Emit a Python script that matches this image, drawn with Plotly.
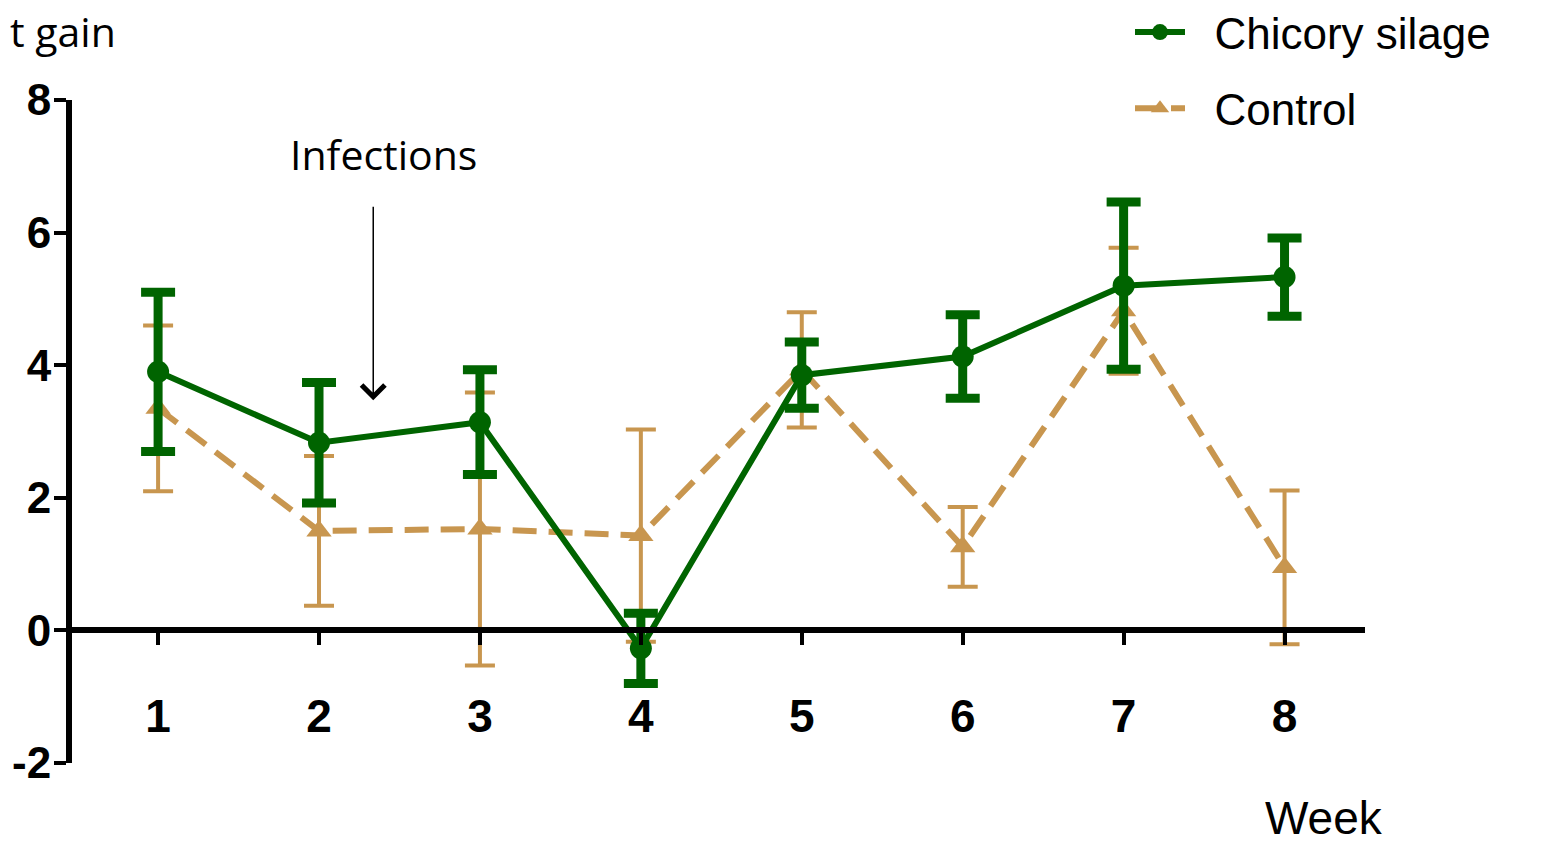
import plotly.graph_objects as go

# Weekly weight gain, mean with error (SEM)
weeks = [1, 2, 3, 4, 5, 6, 7, 8]
chicory_mean = [3.90, 2.83, 3.14, -0.27, 3.85, 4.13, 5.20, 5.33]
chicory_err = [1.20, 0.91, 0.79, 0.53, 0.50, 0.63, 1.26, 0.59]
control_mean = [3.35, 1.50, 1.53, 1.43, 3.93, 1.26, 4.82, 0.95]
control_err = [1.25, 1.13, 2.06, 1.60, 0.87, 0.60, 0.95, 1.16]
ytick_vals = [-2, 0, 2, 4, 6, 8]
ytick_text = ["-2", "0", "2", "4", "6", "8"]

GREEN = "#006400"
TAN = "#C8964F"
NBSP = "\u00a0"

fig = go.Figure()

fig.add_trace(go.Scatter(
    x=weeks, y=control_mean, name=NBSP * 2 + "Control", mode="lines+markers",
    line=dict(color=TAN, width=6, dash="24px,12px"),
    marker=dict(symbol="triangle-up", size=22, color=TAN),
    error_y=dict(type="data", array=control_err, visible=True,
                 color=TAN, thickness=4, width=15),
    legendgroup="b", legendrank=2,
))

fig.add_trace(go.Scatter(
    x=weeks, y=chicory_mean, name=NBSP * 2 + "Chicory silage", mode="lines+markers",
    line=dict(color=GREEN, width=6),
    marker=dict(symbol="circle", size=22, color=GREEN),
    error_y=dict(type="data", array=chicory_err, visible=True,
                 color=GREEN, thickness=9, width=17),
    legendgroup="a", legendrank=1,
))

fig.update_layout(
    width=1562, height=846,
    margin=dict(l=72, r=197, t=100, b=83, autoexpand=False),
    paper_bgcolor="white", plot_bgcolor="white",
    showlegend=True,
    legend=dict(
        x=(1130 - 72) / 1293, xanchor="left",
        y=(763 + 3) / 663, yanchor="top",
        font=dict(family="Liberation Sans, Arial", size=44, color="black"),
        itemwidth=50, tracegroupgap=16, traceorder="grouped",
        bgcolor="rgba(0,0,0,0)",
    ),
    xaxis=dict(
        range=[0.465, 8.5], automargin=False,
        anchor="free", position=0.2,
        showline=True, linecolor="black", linewidth=6,
        showgrid=False, zeroline=False,
        tickmode="array", tickvals=weeks, ticktext=[str(w) for w in weeks],
        ticks="outside", ticklen=12, tickwidth=4, tickcolor="black",
        ticklabelstandoff=31,
        tickfont=dict(family="Liberation Sans, Arial", size=46,
                      color="black", weight="bold"),
    ),
    yaxis=dict(
        range=[-2, 8], automargin=False,
        showline=True, linecolor="black", linewidth=6,
        showgrid=False, zeroline=False,
        tickmode="array", tickvals=ytick_vals, ticktext=ytick_text,
        ticks="outside", ticklen=12, tickwidth=4, tickcolor="black",
        ticklabelstandoff=-6,
        tickfont=dict(family="Liberation Sans, Arial", size=44,
                      color="black", weight="bold"),
    ),
)

# Axis titles
fig.add_annotation(
    text="t gain", xref="paper", yref="paper",
    x=(118 - 72) / 1293, y=(763 - 1) / 663,
    xanchor="right", yanchor="top", showarrow=False,
    font=dict(family="Open Sans", size=41, color="black"),
)
fig.add_annotation(
    text="Week", xref="paper", yref="paper",
    x=(1324 - 72) / 1293, y=(763 - 818) / 663,
    xanchor="center", yanchor="middle", showarrow=False,
    font=dict(family="Liberation Sans, Arial", size=46, color="black"),
)

# Infection marker
fig.add_annotation(
    text="Infections", x=2.40, y=7.18, xref="x", yref="y",
    xanchor="center", yanchor="middle", showarrow=False,
    font=dict(family="Open Sans", size=41, color="black"),
)
fig.add_annotation(
    text="", x=2.337, y=3.47, xref="x", yref="y",
    ax=0, ay=-195, axref="pixel", ayref="pixel",
    showarrow=True, arrowhead=4, arrowsize=3, arrowwidth=1.5,
    arrowcolor="black",
)

fig.write_html("out.html")
